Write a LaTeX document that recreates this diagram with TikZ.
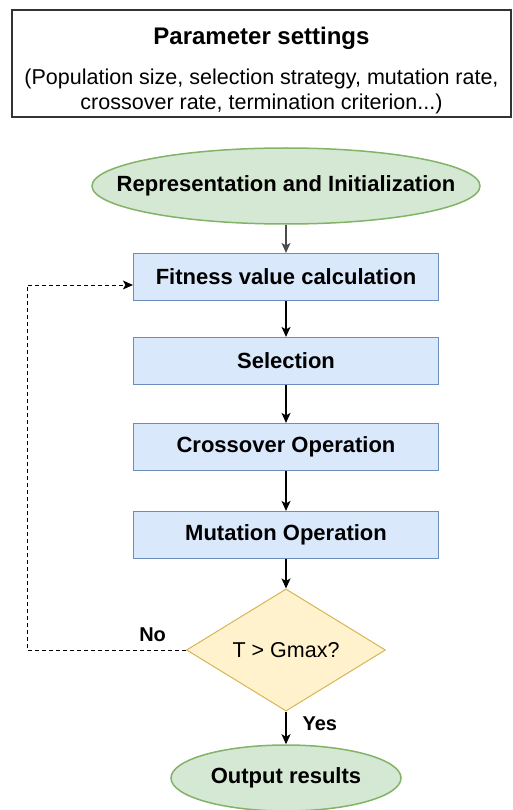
\documentclass[tikz,border=0pt]{standalone}
\usepackage{fontspec}
\setmainfont{Liberation Sans}
\usetikzlibrary{shapes.geometric,arrows.meta,positioning}

\definecolor{procfill}{HTML}{DAE8FC}
\definecolor{procline}{HTML}{6C8EBF}
\definecolor{termfill}{HTML}{D5E8D4}
\definecolor{termline}{HTML}{82B366}
\definecolor{decfill}{HTML}{FFF2CC}
\definecolor{decline}{HTML}{D6B656}

\begin{document}
\begin{tikzpicture}[x=1pt,y=-1pt,
  txt/.style={font=\fontsize{21.5}{25}\selectfont},
  btxt/.style={font=\fontsize{22}{26}\selectfont\bfseries},
  proc/.style={draw=procline,fill=procfill,line width=1.2pt,btxt,
    minimum width=305pt,minimum height=47pt,inner sep=2pt},
  term/.style={ellipse,draw=termline,fill=termfill,line width=1.5pt,btxt,inner sep=2pt},
  decide/.style={diamond,draw=decline,fill=decfill,line width=1pt,txt,
    inner sep=0pt,minimum width=199pt,minimum height=106pt},
  lbl/.style={font=\fontsize{20}{24}\selectfont\bfseries,inner sep=2pt},
  flow/.style={-{Stealth[length=10pt,width=9pt,inset=2.5pt]},line width=1.2pt},
  backedge/.style={flow,line width=1pt,dash pattern=on 4pt off 3pt},
]
  \useasboundingbox (0,0) rectangle (513,810);

  % parameter box on top
  \node[draw=black!80,line width=1.5pt,minimum width=499pt,minimum height=107pt,
        align=center,txt,inner sep=0pt] (params) at (261.5,63.5)
    {\rule{0pt}{32pt}{\fontsize{24}{28}\selectfont\bfseries Parameter settings}\\[15pt]
     (Population size, selection strategy, mutation rate,\\
     crossover rate, termination criterion...)};

  % main flow
  \node[term,minimum width=388pt,minimum height=76pt] (init) at (286,186)
    {\makebox[200pt][c]{Representation and Initialization}};
  \node[proc] (fit) at (286,277) {Fitness value calculation};
  \node[proc] (sel) at (286,361) {Selection};
  \node[proc] (cross) at (286,447) {Crossover Operation};
  \node[proc] (mut) at (286,535) {Mutation Operation};
  \node[decide] (dec) at (286,650) {T > Gmax?};
  \node[term,minimum width=230pt,minimum height=66pt] (out) at (286,778) {Output results};
  \coordinate (back) at (27,650);

  % arrows
  \draw[flow,draw=black!70] (init) -- (fit);
  \draw[flow] (fit) -- (sel);
  \draw[flow] (sel) -- (cross);
  \draw[flow] (cross) -- (mut);
  \draw[flow] (mut) -- (dec);
  \draw[flow] (dec) -- node[lbl,pos=0.36,anchor=west,xshift=14pt] (yeslbl) {Yes} (out);
  \draw[backedge] (dec.west) -- node[lbl,pos=0.21,anchor=south,yshift=6pt] (nolbl) {No} (back)
    |- ([yshift=-8pt]fit.west);
\end{tikzpicture}
\end{document}
